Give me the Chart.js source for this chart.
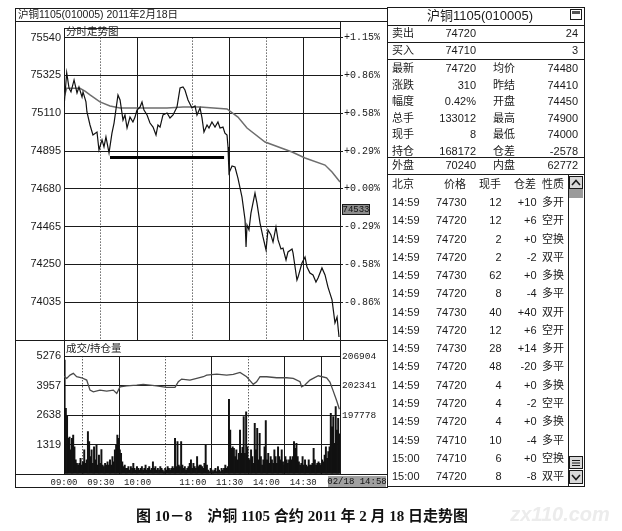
<!DOCTYPE html>
<html>
<head>
<meta charset="utf-8">
<script src="https://cdn.jsdelivr.net/npm/chart.js@4.4.1/dist/chart.umd.min.js"></script>
<style>
html, body { margin: 0; padding: 0; background: #fff; }
#wrap { position: relative; width: 622px; height: 531px; overflow: hidden; }
#wrap canvas { position: absolute; left: 0; top: 0; }
</style>
</head>
<body>
<div id="wrap">
  <canvas id="priceChart" width="622" height="531"></canvas>
  <canvas id="volChart" width="622" height="531"></canvas>
</div>
<script>
// minutes from 09:00 on a 225-minute trading day
const gridMinutes = [0, 30, 60, 105, 135, 165, 195, 225];
const dottedMinutes = [30, 105, 165];
const timeLabels = ['09:00', '09:30', '10:00', '11:00', '11:30', '14:00', '14:30', ''];

const priceTicks = [74035, 74250, 74465, 74680, 74895, 75110, 75325, 75540];
const pctLabels = ['-0.86%', '-0.58%', '-0.29%', '+0.00%', '+0.29%', '+0.58%', '+0.86%', '+1.15%'];
const volTicks = [0, 1319, 2638, 3957, 5276];
const oiTicks = [197778, 202341, 206904];

const priceMin = [0, 2.2, 4.1, 5.7, 8.2, 10.6, 12.2, 14.7, 15.5, 17.9,
  18.7, 21.2, 23.6, 26.9, 28.5, 31, 32.6, 34.2, 36.7, 39.1,
  40.8, 44, 45.7, 48.1, 49.7, 51.4, 53.8, 56.2, 57.9, 59.5,
  62, 63.6, 65.2, 67.7, 70.1, 72.6, 75, 76.6, 78.3, 80.7,
  84, 86.4, 88.9, 92.1, 94.6, 97, 98.6, 101.1, 104.3, 106.8,
  108.4, 110.9, 112.5, 114.1, 116.6, 118.2, 120.6, 123.1, 125.5, 127.2,
  129.6, 131.2, 132.9, 133.7, 134.5, 137, 139.4, 141.8, 145.1, 147.6,
  148.4, 149.2, 150.8, 152.4, 155.7, 157.3, 159.8, 162.2, 164.7, 166.3,
  168.7, 170.4, 172.8, 174.5, 176.9, 178.5, 181, 182.6, 185.9, 186.7,
  189.9, 190.8, 194, 196.5, 198.1, 200.5, 203, 205.4, 207.1, 210.3,
  212.8, 215.2, 218.5, 220.9, 222.6, 224.2];
const priceVal = [75145, 75340, 75253, 75231, 75299, 75225, 75259, 75202, 75231, 75174,
  75117, 75043, 74986, 75003, 74901, 74958, 74918, 74975, 74884, 74997,
  75054, 75214, 75185, 75071, 75100, 75026, 75088, 75060, 75088, 75128,
  75145, 75174, 75128, 75100, 75054, 75031, 74986, 75043, 75031, 75100,
  75111, 75083, 75100, 75145, 75253, 75259, 75242, 75185, 75140, 75151,
  75100, 75140, 75083, 75003, 75043, 75026, 75060, 75031, 75060, 75026,
  75031, 74997, 74986, 74918, 74770, 74810, 74804, 74741, 74633, 74503,
  74349, 74474, 74446, 74542, 74656, 74599, 74485, 74406, 74332, 74446,
  74417, 74377, 74463, 74389, 74338, 74343, 74275, 74321, 74338, 74315,
  74161, 74178, 74258, 74292, 74235, 74201, 74190, 74150, 74173, 74230,
  74190, 74121, 74048, 73917, 73951, 73837];

const avgMin = [0, 2.2, 13, 17.1, 21.2, 29.3, 37.5, 45.7, 62, 84, 97, 110.9, 132.9, 141.8, 149.2, 163.9, 185.9, 196.5, 212.8, 218.5, 225];
const avgVal = [75200, 75252, 75252, 75236, 75214, 75174, 75151, 75140, 75140, 75140, 75145, 75145, 75134, 75088, 75026, 74946, 74889, 74855, 74815, 74776, 74719];

// hand-drawn support line under the morning lows
const supportMin = [37.5, 130.5];
const supportVal = [74858, 74858];

// volume per minute, 09:00 .. 14:59
const volumes = [
  5110, 2940, 2600, 1600, 1650, 1080, 1600, 1750, 1220, 630, 480, 400, 480, 700, 400,
  550, 1080, 480, 630, 1900, 1450, 780, 1080, 480, 1220, 630, 1300, 400, 850, 480,
  1100, 400, 330, 480, 400, 550, 400, 630, 400, 780, 550, 1080, 1300, 1750, 1600,
  1080, 930, 550, 330, 400, 250, 250, 330, 180, 330, 250, 480, 250, 180, 330,
  250, 180, 250, 330, 180, 250, 400, 180, 250, 330, 180, 250, 550, 250, 330,
  180, 250, 180, 330, 250, 180, 105, 250, 180, 330, 250, 180, 250, 330, 250,
  1600, 330, 1450, 400, 330, 1450, 400, 250, 330, 180, 250, 330, 480, 630, 250,
  480, 330, 250, 780, 330, 400, 400, 330, 250, 480, 1300, 400, 180, 105, 250,
  180, 105, 180, 250, 105, 330, 180, 105, 250, 180, 250, 400, 250, 330, 3350,
  1970, 1150, 1220, 1150, 780, 1080, 630, 930, 1970, 930, 1200, 2570, 930, 2790, 1220,
  700, 630, 1080, 780, 480, 2270, 1080, 2050, 630, 1820, 780, 400, 630, 1220, 2400,
  630, 930, 480, 780, 630, 480, 1080, 780, 480, 1220, 780, 630, 1080, 550, 400,
  780, 630, 480, 630, 780, 630, 780, 1450, 1150, 1370, 780, 550, 400, 480, 780,
  400, 630, 400, 330, 630, 400, 400, 480, 1150, 630, 400, 480, 550, 480, 400,
  630, 550, 850, 1220, 700, 1000, 1220, 2720, 2120, 2570, 1370, 3020, 1970, 2500, 1800];

const oiMin = [0, 2.2, 4.9, 7.6, 10.3, 14.4, 18.5, 21.2, 23.9, 29.3, 34.8, 40.2, 43, 45.7, 51.1, 59.3,
  64.6, 75.6, 83.7, 90.5, 93.2, 95.9, 102.7, 108.2, 113.6, 116.3, 124.5, 132.6, 138, 143.5, 148.9,
  154.3, 157, 159.8, 165.2, 173.4, 181.5, 186.9, 192.4, 193.7, 196.4, 200.5, 207.3, 214.1, 216.8,
  219.5, 222.3, 224.5];
const oiVal = [203800, 203483, 203996, 204261, 203732, 203576, 203219, 201664, 201399, 201664, 201508, 201664, 201150, 202177, 202332, 202441,
  202550, 202332, 202083, 202083, 202954, 203374, 203219, 203483, 203732, 203996, 204152, 203996, 204105, 204416, 203732,
  202550, 202954, 203732, 203732, 203576, 203576, 203483, 202954, 202177, 202441, 203219, 203887, 203576, 202900,
  201500, 200000, 198700];

// quote panel
const quoteTitle = '沪铜1105(010005)';
const askRow = ['卖出', '74720', '24'];
const bidRow = ['买入', '74710', '3'];
const statRows = [
  ['最新', '74720', '均价', '74480'],
  ['涨跌', '310', '昨结', '74410'],
  ['幅度', '0.42%', '开盘', '74450'],
  ['总手', '133012', '最高', '74900'],
  ['现手', '8', '最低', '74000'],
  ['持仓', '168172', '仓差', '-2578']
];
const outInRow = ['外盘', '70240', '内盘', '62772'];
const tradeHead = ['北京', '价格', '现手', '仓差', '性质'];
const trades = [
  ['14:59', '74730', '12', '+10', '多开'],
  ['14:59', '74720', '12', '+6', '空开'],
  ['14:59', '74720', '2', '+0', '空换'],
  ['14:59', '74720', '2', '-2', '双平'],
  ['14:59', '74730', '62', '+0', '多换'],
  ['14:59', '74720', '8', '-4', '多平'],
  ['14:59', '74730', '40', '+40', '双开'],
  ['14:59', '74720', '12', '+6', '空开'],
  ['14:59', '74730', '28', '+14', '多开'],
  ['14:59', '74720', '48', '-20', '多平'],
  ['14:59', '74720', '4', '+0', '多换'],
  ['14:59', '74720', '4', '-2', '空平'],
  ['14:59', '74720', '4', '+0', '多换'],
  ['14:59', '74710', '10', '-4', '多平'],
  ['15:00', '74710', '6', '+0', '空换'],
  ['15:00', '74720', '8', '-8', '双平']
];

const INK = '#1a1a1a';
const SANS = '"Liberation Sans", "Noto Sans CJK SC", sans-serif';
const MONO = '"Liberation Mono", "DejaVu Sans Mono", monospace';

function xAxis(showLabels) {
  return {
    type: 'linear', min: 0, max: 225, offset: false,
    afterBuildTicks: s => { s.ticks = gridMinutes.map(v => ({ value: v })); },
    afterFit: s => { s.height = showLabels ? 14 : 0; },
    grid: { color: INK, lineWidth: 1, drawTicks: false,
      borderDash: c => (c.tick && dottedMinutes.includes(c.tick.value)) ? [1, 2] : [] },
    border: { display: true, color: INK,
      dash: c => (c.tick && dottedMinutes.includes(c.tick.value)) ? [1, 2] : [] },
    ticks: { display: showLabels, padding: 3, autoSkip: false, maxRotation: 0,
      font: { family: MONO, size: 9 }, color: INK,
      callback: (v, i) => timeLabels[i] }
  };
}

const panelPlugin = {
  id: 'panel',
  afterDraw(chart) {
    const c = chart.ctx;
    c.save();
    c.strokeStyle = INK;
    c.lineWidth = 1;
    const hl = (x1, x2, y) => { c.beginPath(); c.moveTo(x1, y + 0.5); c.lineTo(x2, y + 0.5); c.stroke(); };
    const vl = (x, y1, y2) => { c.beginPath(); c.moveTo(x + 0.5, y1); c.lineTo(x + 0.5, y2); c.stroke(); };
    const txt = (s, x, y, align, font, color) => {
      c.font = font || ('11px ' + SANS);
      c.fillStyle = color || INK;
      c.textAlign = align || 'left';
      c.textBaseline = 'middle';
      c.fillText(s, x, y);
    };

    // left window frame
    c.strokeRect(15.5, 8.5, 372, 479);
    hl(15, 387, 21);
    hl(64, 340, 28);
    vl(64, 28, 38);
    vl(340, 21, 38);
    hl(15, 387, 340);
    vl(64, 340, 357);
    vl(340, 340, 357);
    hl(15, 387, 474);
    txt('沪铜1105(010005) 2011年2月18日', 18, 15, 'left', '10.5px ' + SANS);
    txt('分时走势图', 66, 32.5, 'left', '10.5px ' + SANS);
    txt('成交/持仓量', 66, 349, 'left', '10.5px ' + SANS);

    // current price marker on the right axis
    c.fillStyle = '#8c8c8c';
    c.fillRect(342, 204, 28, 11);
    c.strokeRect(342.5, 204.5, 27, 10);
    txt('74533', 356, 209.5, 'center', '9px ' + MONO, '#111');

    // time box at end of the axis row
    c.fillStyle = '#a0a0a0';
    c.fillRect(328, 476, 58, 11);
    txt('02/18 14:58', 357, 481.5, 'center', '9px ' + MONO, '#111');

    // quote panel
    c.strokeRect(387.5, 7.5, 197, 479);
    [25, 42, 59, 157, 174].forEach(y => hl(387, 584, y));
    txt(quoteTitle, 480, 16.5, 'center', '13px ' + SANS);
    c.strokeRect(570.5, 9.5, 11, 10);
    c.fillStyle = '#555';
    c.fillRect(572, 11, 8, 3);

    const L1 = 392, R1 = 476, L2 = 493, R2 = 578;
    [askRow, bidRow].forEach((r, i) => {
      const y = 34 + i * 17;
      txt(r[0], L1, y);
      txt(r[1], R1, y, 'right');
      txt(r[2], R2, y, 'right');
    });
    statRows.forEach((r, i) => {
      const y = 69 + i * 16.6;
      txt(r[0], L1, y);
      txt(r[1], R1, y, 'right');
      txt(r[2], L2, y);
      txt(r[3], R2, y, 'right');
    });
    txt(outInRow[0], L1, 166);
    txt(outInRow[1], R1, 166, 'right');
    txt(outInRow[2], L2, 166);
    txt(outInRow[3], R2, 166, 'right');

    txt(tradeHead[0], L1, 185);
    txt(tradeHead[1], 455, 185, 'center');
    txt(tradeHead[2], 490, 185, 'center');
    txt(tradeHead[3], 525, 185, 'center');
    txt(tradeHead[4], 553, 185, 'center');
    trades.forEach((r, i) => {
      const y = 203 + i * 18.27;
      txt(r[0], L1, y);
      txt(r[1], 466.5, y, 'right');
      txt(r[2], 501.5, y, 'right');
      txt(r[3], 536.5, y, 'right');
      txt(r[4], 542, y);
    });

    // scrollbar
    vl(568, 174, 487);
    c.fillStyle = '#d8d8d8';
    c.fillRect(569, 176, 14, 13);
    c.strokeRect(569.5, 176.5, 13, 12);
    c.fillStyle = '#9a9a9a';
    c.fillRect(569, 189, 14, 9);
    c.fillStyle = '#d8d8d8';
    c.fillRect(569, 456, 14, 13);
    c.strokeRect(569.5, 456.5, 13, 12);
    c.fillRect(569, 470, 14, 14);
    c.strokeRect(569.5, 470.5, 13, 13);
    c.lineWidth = 1.6;
    c.beginPath(); c.moveTo(572, 185); c.lineTo(576, 180.5); c.lineTo(580, 185); c.stroke();
    c.beginPath(); c.moveTo(572, 475); c.lineTo(576, 479.5); c.lineTo(580, 475); c.stroke();
    c.lineWidth = 1;
    [460, 462.5, 465].forEach(y => hl(572, 580, y));

    // caption and watermark
    txt('图 10－8　沪铜 1105 合约 2011 年 2 月 18 日走势图', 302, 517, 'center',
      'bold 15px "Liberation Serif", "Noto Sans CJK SC", serif', '#111');
    txt('zx110.com', 560, 515, 'center', 'italic bold 20px ' + SANS, '#ececec');
    c.restore();
  }
};

new Chart(document.getElementById('priceChart'), {
  type: 'line',
  data: {
    datasets: [
      { data: priceMin.map((m, i) => ({ x: m, y: priceVal[i] })), borderColor: '#111', borderWidth: 1.2, pointRadius: 0 },
      { data: avgMin.map((m, i) => ({ x: m, y: avgVal[i] })), borderColor: '#6e6e6e', borderWidth: 1.5, pointRadius: 0 },
      { data: supportMin.map((m, i) => ({ x: m, y: supportVal[i] })), borderColor: '#000', borderWidth: 3.2, pointRadius: 0 }
    ]
  },
  options: {
    responsive: false,
    animation: false,
    events: [],
    layout: { padding: { left: 15, top: 37.6, right: 235, bottom: 191 } },
    plugins: { legend: { display: false }, tooltip: { enabled: false } },
    scales: {
      x: xAxis(false),
      y: {
        position: 'left', min: 73820, max: 75540,
        afterBuildTicks: s => { s.ticks = priceTicks.map(v => ({ value: v })); },
        afterFit: s => { s.width = 49; },
        grid: { color: INK, drawTicks: false },
        border: { color: INK },
        ticks: { padding: 3, font: { family: SANS, size: 11 }, color: INK, callback: v => String(v) }
      },
      y1: {
        position: 'right', min: 73820, max: 75540,
        afterBuildTicks: s => { s.ticks = priceTicks.map(v => ({ value: v })); },
        afterFit: s => { s.width = 47; },
        grid: { drawOnChartArea: false, drawTicks: true, tickLength: 3, tickColor: INK },
        border: { color: INK },
        ticks: { padding: 1, font: { family: MONO, size: 10 }, color: INK, callback: (v, i) => pctLabels[i] }
      }
    }
  },
  plugins: [panelPlugin]
});

new Chart(document.getElementById('volChart'), {
  type: 'bar',
  data: {
    datasets: [
      { type: 'line', yAxisID: 'y1', order: 0, data: oiMin.map((m, i) => ({ x: m, y: oiVal[i] })),
        borderColor: '#4a4a4a', borderWidth: 1.3, pointRadius: 0 },
      { type: 'bar', yAxisID: 'y', order: 1, data: volumes.map((v, i) => ({ x: i + 0.5, y: v })),
        backgroundColor: '#111', barThickness: 1.3 }
    ]
  },
  options: {
    responsive: false,
    animation: false,
    events: [],
    layout: { padding: { left: 15, top: 356.3, right: 235, bottom: 43 } },
    plugins: { legend: { display: false }, tooltip: { enabled: false } },
    scales: {
      x: xAxis(true),
      y: {
        position: 'left', min: 0, max: 5276,
        afterBuildTicks: s => { s.ticks = volTicks.map(v => ({ value: v })); },
        afterFit: s => { s.width = 49; },
        grid: { color: INK, drawTicks: false },
        border: { color: INK },
        ticks: { padding: 3, font: { family: SANS, size: 11 }, color: INK, callback: v => (v === 0 ? '' : String(v)) }
      },
      y1: {
        position: 'right', min: 188652, max: 206904,
        afterBuildTicks: s => { s.ticks = oiTicks.map(v => ({ value: v })); },
        afterFit: s => { s.width = 47; },
        grid: { drawOnChartArea: false, drawTicks: false },
        border: { color: INK },
        ticks: { padding: 2, font: { family: MONO, size: 9.5 }, color: INK, callback: v => String(v) }
      }
    }
  }
});
</script>
</body>
</html>
